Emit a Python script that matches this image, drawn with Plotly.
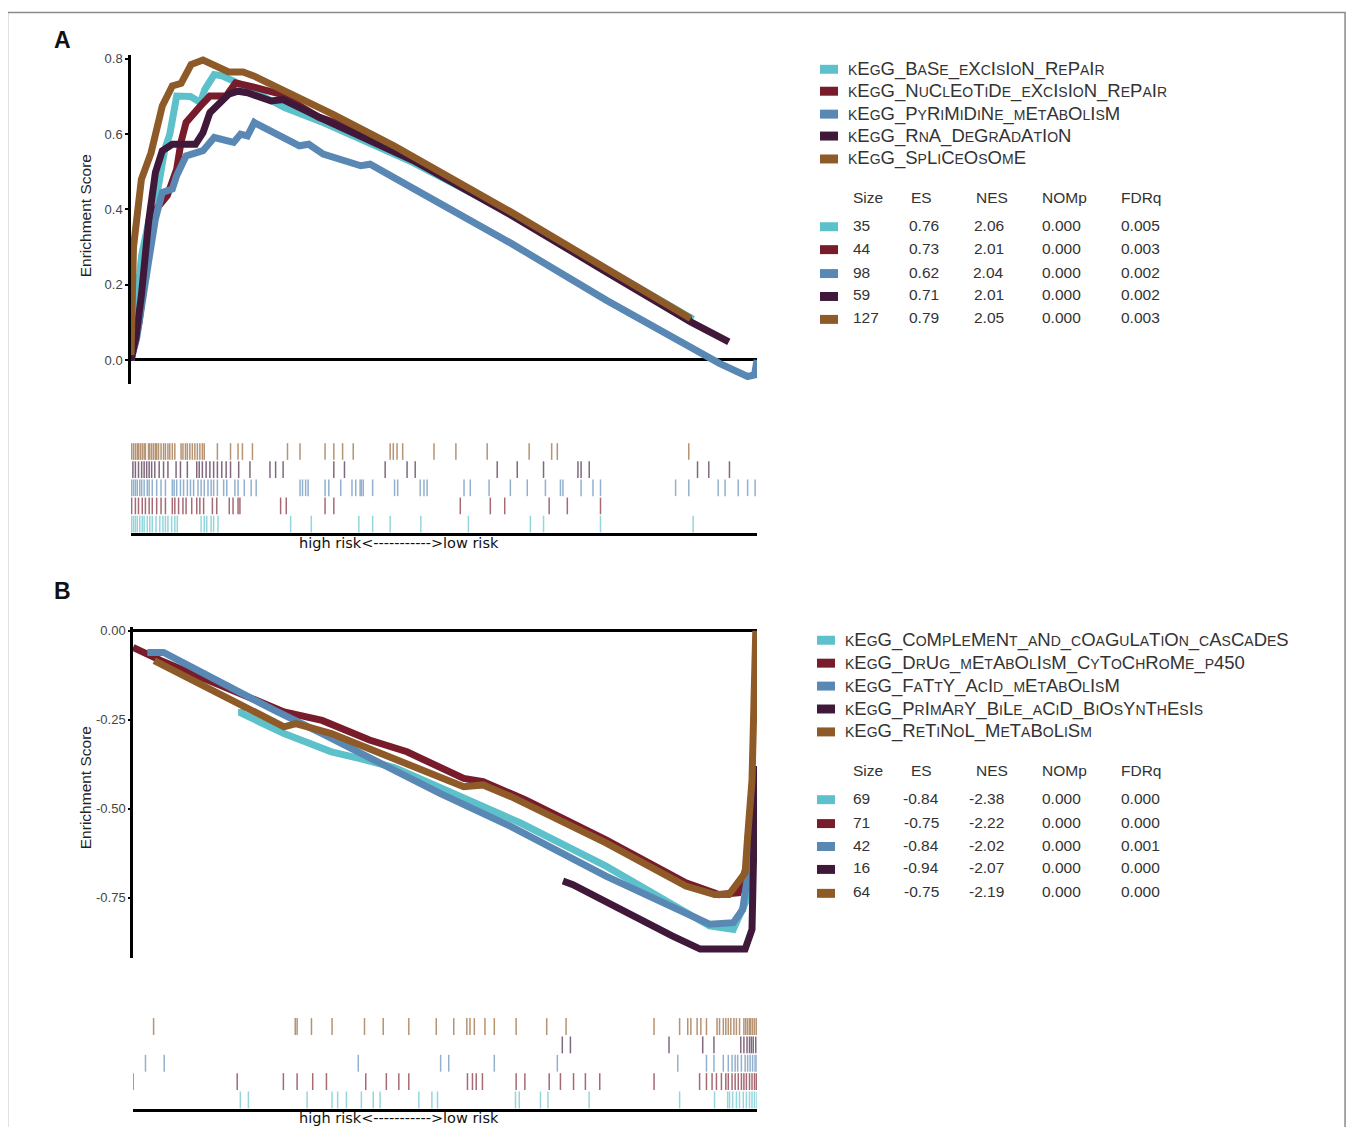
import plotly.graph_objects as go

# page offset of the browser's default body margin is compensated below
OX, OY = 8, 9
W, H = 1354 - 2 * OX, 1128 - OY

# ---------------- colours ----------------
COLORS = ["#5CC1CA", "#781B2A", "#5A88B5", "#40193A", "#8E5A28"]  # cyan, red, blue, purple, orange

# ---------------- Panel A data ----------------
A_names = ["kEgG_BaSe_eXcIsIoN_RePaIr", "kEgG_NuClEoTiDe_eXcIsIoN_RePaIr",
           "kEgG_PyRiMiDiNe_mEtAbOlIsM", "kEgG_RnA_DeGrAdAtIoN", "kEgG_SpLiCeOsOmE"]
A_size = ["35", "44", "98", "59", "127"]
A_es = ["0.76", "0.73", "0.62", "0.71", "0.79"]
A_nes = ["2.06", "2.01", "2.04", "2.01", "2.05"]
A_nomp = ["0.000", "0.000", "0.000", "0.000", "0.000"]
A_fdrq = ["0.005", "0.003", "0.002", "0.002", "0.003"]

A_cyan_x = [0, 0.008, 0.017, 0.03, 0.043, 0.054, 0.062, 0.073, 0.095, 0.111, 0.118, 0.133, 0.145, 0.164, 0.194, 0.246, 0.307, 0.382, 0.45, 0.608, 0.759, 0.898]
A_cyan_y = [0.0, 0.12, 0.278, 0.38, 0.454, 0.56, 0.6, 0.701, 0.70, 0.684, 0.719, 0.758, 0.755, 0.741, 0.714, 0.67, 0.631, 0.573, 0.525, 0.388, 0.24, 0.108]
A_red_x = [0, 0.006, 0.013, 0.024, 0.04, 0.058, 0.073, 0.08, 0.088, 0.111, 0.126, 0.152, 0.167, 0.201, 0.239, 0.3, 0.382, 0.457, 0.608, 0.759, 0.894]
A_red_y = [0, 0.05, 0.101, 0.251, 0.4, 0.437, 0.507, 0.58, 0.631, 0.675, 0.701, 0.701, 0.736, 0.723, 0.706, 0.645, 0.6, 0.525, 0.386, 0.236, 0.104]
A_blue_x = [0, 0.009, 0.028, 0.039, 0.05, 0.066, 0.073, 0.088, 0.115, 0.133, 0.164, 0.175, 0.186, 0.197, 0.201, 0.269, 0.284, 0.307, 0.367, 0.382, 0.457, 0.608, 0.759, 0.91, 0.94, 0.985, 0.996, 1.0]
A_blue_y = [0, 0.057, 0.26, 0.375, 0.445, 0.454, 0.49, 0.542, 0.556, 0.591, 0.578, 0.6, 0.595, 0.631, 0.627, 0.569, 0.573, 0.547, 0.516, 0.52, 0.45, 0.309, 0.159, 0.018, -0.009, -0.044, -0.04, 0.0]
A_purple_x = [0, 0.008, 0.0166, 0.028, 0.039, 0.05, 0.066, 0.103, 0.115, 0.126, 0.156, 0.171, 0.186, 0.224, 0.243, 0.307, 0.457, 0.608, 0.759, 0.894, 0.955]
A_purple_y = [0, 0.06, 0.172, 0.366, 0.498, 0.556, 0.573, 0.573, 0.604, 0.657, 0.706, 0.714, 0.71, 0.688, 0.692, 0.64, 0.525, 0.384, 0.234, 0.101, 0.048]
A_orange_x = [0, 0.004, 0.0166, 0.032, 0.05, 0.066, 0.08, 0.096, 0.115, 0.156, 0.179, 0.197, 0.246, 0.322, 0.42, 0.608, 0.759, 0.894]
A_orange_y = [0.013, 0.3, 0.48, 0.55, 0.675, 0.728, 0.735, 0.785, 0.797, 0.765, 0.765, 0.754, 0.714, 0.653, 0.569, 0.392, 0.243, 0.11]

A_hits_cyan = [0.001, 0.004, 0.007, 0.010, 0.014, 0.018, 0.021, 0.026, 0.030, 0.034, 0.040, 0.046, 0.051, 0.055, 0.059, 0.065, 0.070, 0.074, 0.112, 0.117, 0.121, 0.128, 0.132, 0.139, 0.255, 0.288, 0.364, 0.386, 0.414, 0.463, 0.539, 0.638, 0.659, 0.750, 0.898]
A_hits_red = [0.001, 0.007, 0.012, 0.018, 0.023, 0.029, 0.034, 0.041, 0.048, 0.055, 0.066, 0.070, 0.076, 0.083, 0.088, 0.097, 0.105, 0.110, 0.116, 0.130, 0.137, 0.157, 0.163, 0.171, 0.174, 0.239, 0.248, 0.310, 0.324, 0.526, 0.574, 0.597, 0.668, 0.697, 0.750]
A_hits_blue = [0.001, 0.004, 0.007, 0.010, 0.014, 0.017, 0.021, 0.026, 0.029, 0.034, 0.041, 0.048, 0.055, 0.066, 0.069, 0.073, 0.079, 0.084, 0.090, 0.095, 0.100, 0.107, 0.112, 0.117, 0.123, 0.128, 0.132, 0.138, 0.148, 0.153, 0.166, 0.171, 0.181, 0.192, 0.200, 0.270, 0.274, 0.279, 0.283, 0.310, 0.316, 0.335, 0.353, 0.359, 0.366, 0.368, 0.371, 0.386, 0.421, 0.426, 0.462, 0.468, 0.473, 0.532, 0.542, 0.572, 0.606, 0.633, 0.662, 0.686, 0.690, 0.719, 0.738, 0.750, 0.870, 0.891, 0.938, 0.949, 0.970, 0.985, 0.997]
A_hits_purple = [0.003, 0.007, 0.012, 0.017, 0.021, 0.025, 0.029, 0.033, 0.038, 0.045, 0.052, 0.059, 0.072, 0.079, 0.090, 0.105, 0.109, 0.114, 0.120, 0.126, 0.132, 0.138, 0.145, 0.152, 0.159, 0.172, 0.190, 0.222, 0.231, 0.243, 0.324, 0.341, 0.406, 0.441, 0.454, 0.585, 0.617, 0.659, 0.714, 0.719, 0.732, 0.905, 0.923, 0.956]
A_hits_orange = [0.001, 0.004, 0.007, 0.010, 0.012, 0.015, 0.018, 0.021, 0.023, 0.028, 0.030, 0.033, 0.036, 0.039, 0.041, 0.044, 0.048, 0.052, 0.055, 0.059, 0.062, 0.066, 0.070, 0.080, 0.083, 0.087, 0.090, 0.094, 0.098, 0.102, 0.106, 0.110, 0.114, 0.117, 0.138, 0.159, 0.171, 0.178, 0.194, 0.250, 0.270, 0.310, 0.324, 0.338, 0.355, 0.414, 0.419, 0.425, 0.434, 0.484, 0.519, 0.569, 0.636, 0.672, 0.681, 0.891]

# ---------------- Panel B data ----------------
B_names = ["kEgG_CoMpLeMeNt_aNd_cOaGuLaTiOn_cAsCaDeS", "kEgG_DrUg_mEtAbOlIsM_CyToChRoMe_p450",
           "kEgG_FaTtY_AcId_mEtAbOlIsM", "kEgG_PrImArY_BiLe_aCiD_BiOsYnThEsIs", "kEgG_ReTiNoL_MeTaBoLiSm"]
B_size = ["69", "71", "42", "16", "64"]
B_es = ["-0.84", "-0.75", "-0.84", "-0.94", "-0.75"]
B_nes = ["-2.38", "-2.22", "-2.02", "-2.07", "-2.19"]
B_nomp = ["0.000", "0.000", "0.000", "0.000", "0.000"]
B_fdrq = ["0.000", "0.000", "0.001", "0.000", "0.000"]

B_cyan_x = [0.174, 0.174, 0.242, 0.318, 0.364, 0.42, 0.621, 0.758, 0.924, 0.962, 0.985, 0.998]
B_cyan_y = [-0.22, -0.232, -0.289, -0.34, -0.359, -0.385, -0.54, -0.661, -0.829, -0.839, -0.75, -0.5]
B_red_x = [0, 0.045, 0.242, 0.303, 0.379, 0.439, 0.53, 0.561, 0.629, 0.758, 0.886, 0.939, 0.97, 0.985, 0.996]
B_red_y = [-0.047, -0.084, -0.228, -0.252, -0.307, -0.34, -0.415, -0.424, -0.475, -0.587, -0.708, -0.741, -0.736, -0.652, -0.42]
B_blue_x = [0.023, 0.049, 0.227, 0.303, 0.492, 0.606, 0.758, 0.924, 0.962, 0.977, 0.992]
B_blue_y = [-0.061, -0.061, -0.224, -0.289, -0.457, -0.55, -0.689, -0.824, -0.82, -0.783, -0.606]
B_purple_x = [0.689, 0.705, 0.864, 0.909, 0.981, 0.992, 0.996, 0.998]
B_purple_y = [-0.703, -0.713, -0.857, -0.894, -0.894, -0.839, -0.512, -0.38]
B_orange_x = [0.034, 0.242, 0.261, 0.318, 0.53, 0.561, 0.606, 0.758, 0.886, 0.932, 0.955, 0.97, 0.981, 0.985, 0.992, 0.998]
B_orange_y = [-0.084, -0.27, -0.261, -0.289, -0.438, -0.433, -0.466, -0.596, -0.717, -0.741, -0.741, -0.708, -0.68, -0.578, -0.42, 0.0]

B_hits_cyan = [0.172, 0.185, 0.279, 0.319, 0.328, 0.342, 0.366, 0.385, 0.396, 0.458, 0.479, 0.488, 0.613, 0.619, 0.653, 0.665, 0.731, 0.876, 0.932, 0.953, 0.956, 0.961, 0.967, 0.972, 0.978, 0.983, 0.988, 0.992, 0.996, 1.0]
B_hits_red = [0.0, 0.167, 0.241, 0.263, 0.288, 0.310, 0.373, 0.406, 0.426, 0.442, 0.536, 0.544, 0.550, 0.560, 0.614, 0.628, 0.667, 0.685, 0.706, 0.725, 0.748, 0.835, 0.908, 0.919, 0.928, 0.935, 0.943, 0.950, 0.954, 0.960, 0.965, 0.970, 0.975, 0.979, 0.983, 0.988, 0.992, 0.996, 0.999]
B_hits_blue = [0.020, 0.050, 0.361, 0.493, 0.506, 0.579, 0.680, 0.873, 0.919, 0.931, 0.946, 0.954, 0.960, 0.965, 0.969, 0.975, 0.981, 0.985, 0.989, 0.993, 0.997, 1.0]
B_hits_purple = [0.688, 0.701, 0.859, 0.913, 0.931, 0.974, 0.979, 0.984, 0.988, 0.991, 0.994, 0.998]
B_hits_orange = [0.033, 0.260, 0.263, 0.286, 0.319, 0.371, 0.401, 0.442, 0.486, 0.514, 0.535, 0.540, 0.547, 0.564, 0.579, 0.614, 0.663, 0.694, 0.835, 0.876, 0.889, 0.894, 0.904, 0.910, 0.919, 0.936, 0.940, 0.946, 0.950, 0.954, 0.958, 0.963, 0.967, 0.972, 0.979, 0.982, 0.985, 0.988, 0.990, 0.993, 0.996, 0.999]

A_ticks = [0.0, 0.2, 0.4, 0.6, 0.8]
A_ticktext = ["0.0", "0.2", "0.4", "0.6", "0.8"]
B_ticks = [0.0, -0.25, -0.5, -0.75]
B_ticktext = ["0.00", "-0.25", "-0.50", "-0.75"]
RISK_LABEL = "high risk<----------->low risk"

# ---------------- helpers (reference pixel -> paper) ----------------
def px(x):
    return (x - OX) / W

def py(y):
    return 1 - (y - OY) / H

def smallcaps(s, small=14):
    out = []
    for ch in s:
        if ch.islower():
            out.append(f"<span style='font-size:{small}px'>{ch.upper()}</span>")
        else:
            out.append(ch)
    return "".join(out)

def rug(hits, row):
    xs, ys = [], []
    for h in hits:
        xs += [h, h, None]
        ys += [row + 0.04, row + 0.96, None]
    return xs, ys

fig = go.Figure()

A_curves = [(A_cyan_x, A_cyan_y), (A_red_x, A_red_y), (A_blue_x, A_blue_y),
            (A_purple_x, A_purple_y), (A_orange_x, A_orange_y)]
B_curves = [(B_cyan_x, B_cyan_y), (B_red_x, B_red_y), (B_blue_x, B_blue_y),
            (B_purple_x, B_purple_y), (B_orange_x, B_orange_y)]
A_hits = [A_hits_cyan, A_hits_red, A_hits_blue, A_hits_purple, A_hits_orange]
B_hits = [B_hits_cyan, B_hits_red, B_hits_blue, B_hits_purple, B_hits_orange]

for i, (xs, ys) in enumerate(A_curves):
    fig.add_trace(go.Scatter(x=xs, y=ys, mode="lines", line=dict(color=COLORS[i], width=7),
                             xaxis="x", yaxis="y", showlegend=False, hoverinfo="skip"))
for i, (xs, ys) in enumerate(B_curves):
    fig.add_trace(go.Scatter(x=xs, y=ys, mode="lines", line=dict(color=COLORS[i], width=7),
                             xaxis="x3", yaxis="y3", showlegend=False, hoverinfo="skip"))
for i, hits in enumerate(A_hits):
    xs, ys = rug(hits, i)
    fig.add_trace(go.Scatter(x=xs, y=ys, mode="lines", line=dict(color=COLORS[i], width=1.5),
                             opacity=0.65, xaxis="x2", yaxis="y2", showlegend=False, hoverinfo="skip"))
for i, hits in enumerate(B_hits):
    xs, ys = rug(hits, i)
    fig.add_trace(go.Scatter(x=xs, y=ys, mode="lines", line=dict(color=COLORS[i], width=1.5),
                             opacity=0.65, xaxis="x4", yaxis="y4", showlegend=False, hoverinfo="skip"))

FONT = "Liberation Sans, Arial, sans-serif"
tickfont = dict(family=FONT, size=13, color="#444")

fig.update_layout(
    width=W, height=H, margin=dict(l=0, r=0, t=0, b=0),
    paper_bgcolor="white", plot_bgcolor="rgba(0,0,0,0)",
    xaxis=dict(domain=[px(131), px(757)], range=[0, 1], visible=False, anchor="y"),
    yaxis=dict(domain=[py(382), py(52)], range=[-0.063, 0.8106], anchor="x",
               showline=True, linecolor="black", linewidth=2.5, showgrid=False,
               zeroline=True, zerolinecolor="black", zerolinewidth=3,
               tickvals=A_ticks, ticktext=A_ticktext, ticks="outside", ticklen=3,
               tickwidth=2, tickcolor="black", tickfont=tickfont),
    xaxis2=dict(domain=[px(131), px(757)], range=[0, 1], anchor="y2", showline=True,
                linecolor="black", linewidth=3, showgrid=False, zeroline=False,
                showticklabels=False, ticks=""),
    yaxis2=dict(domain=[py(532), py(441)], range=[0, 5], visible=False, anchor="x2"),
    xaxis3=dict(domain=[px(133), px(757)], range=[0, 1], visible=False, anchor="y3"),
    yaxis3=dict(domain=[py(958), py(626)], range=[-0.918, 0.011], anchor="x3",
                showline=True, linecolor="black", linewidth=2.5, showgrid=False,
                zeroline=True, zerolinecolor="black", zerolinewidth=3,
                tickvals=B_ticks, ticktext=B_ticktext, ticks="outside", ticklen=2,
                tickwidth=2, tickcolor="black", tickfont=tickfont),
    xaxis4=dict(domain=[px(133), px(757)], range=[0, 1], anchor="y4", showline=True,
                linecolor="black", linewidth=3, showgrid=False, zeroline=False,
                showticklabels=False, ticks=""),
    yaxis4=dict(domain=[py(1110), py(1018)], range=[0, 5], visible=False, anchor="x4"),
    font=dict(family=FONT, color="#333"),
)

ann = []
shapes = []

# frame (left, top and right edges; bottom lies outside the picture)
shapes.append(dict(type="rect", xref="paper", yref="paper", x0=px(7.5), x1=0.9993,
                   y0=py(1150), y1=py(9.5), line=dict(color="#8a8a8a", width=1.5), layer="below"))

# panel letters
for letter, yc in (("A", 37), ("B", 590)):
    ann.append(dict(text=f"<b>{letter}</b>", x=px(52), y=py(yc), xref="paper", yref="paper",
                    xanchor="left", yanchor="middle", showarrow=False,
                    font=dict(family=FONT, size=23, color="#111")))

# y-axis titles
for yc in (214, 788):
    ann.append(dict(text="Enrichment Score", x=px(85), y=py(yc), xref="paper", yref="paper",
                    xanchor="center", yanchor="middle", textangle=-90, showarrow=False,
                    font=dict(family=FONT, size=15.5, color="#222")))

# risk labels
for yc in (542, 1119):
    ann.append(dict(text=RISK_LABEL, x=px(399), y=py(yc), xref="paper", yref="paper",
                    xanchor="center", yanchor="middle", showarrow=False,
                    font=dict(family="DejaVu Sans, Liberation Sans, sans-serif", size=14.5, color="#111")))

def legend_block(names, sizes, es, nes, nomp, fdrq, sw_x, txt_x, name_y, head_y, row_y):
    for i, nm in enumerate(names):
        shapes.append(dict(type="rect", xref="paper", yref="paper",
                           x0=px(sw_x), x1=px(sw_x + 18), y0=py(name_y[i] + 5), y1=py(name_y[i] - 4),
                           fillcolor=COLORS[i], line=dict(width=0)))
        ann.append(dict(text=smallcaps(nm), x=px(txt_x), y=py(name_y[i]), xref="paper", yref="paper",
                        xanchor="left", yanchor="middle", showarrow=False,
                        font=dict(family=FONT, size=18.5, color="#333")))
    heads = [("Size", 851), ("ES", 909), ("NES", 974), ("NOMp", 1040), ("FDRq", 1119)]
    for t, x in heads:
        ann.append(dict(text=t, x=px(x), y=py(head_y), xref="paper", yref="paper",
                        xanchor="left", yanchor="middle", showarrow=False,
                        font=dict(family=FONT, size=15.5, color="#333")))
    for i in range(len(sizes)):
        shapes.append(dict(type="rect", xref="paper", yref="paper",
                           x0=px(sw_x), x1=px(sw_x + 18), y0=py(row_y[i] + 6), y1=py(row_y[i] - 3),
                           fillcolor=COLORS[i], line=dict(width=0)))
        cols = [(sizes[i], 851, "left"), (es[i], 941, "right"), (nes[i], 1006, "right"),
                (nomp[i], 1040, "left"), (fdrq[i], 1119, "left")]
        for t, x, a in cols:
            ann.append(dict(text=t, x=px(x), y=py(row_y[i]), xref="paper", yref="paper",
                            xanchor=a, yanchor="middle", showarrow=False,
                            font=dict(family=FONT, size=15.5, color="#333")))

legend_block(A_names, A_size, A_es, A_nes, A_nomp, A_fdrq, 820, 846,
             [66, 88, 111, 133, 156], 195, [223, 246, 270, 293, 316])
legend_block(B_names, B_size, B_es, B_nes, B_nomp, B_fdrq, 817, 843,
             [639, 662, 685, 708, 731], 770, [798, 822, 845, 868, 892])

fig.update_layout(annotations=ann, shapes=shapes)
fig.write_html("out.html")
